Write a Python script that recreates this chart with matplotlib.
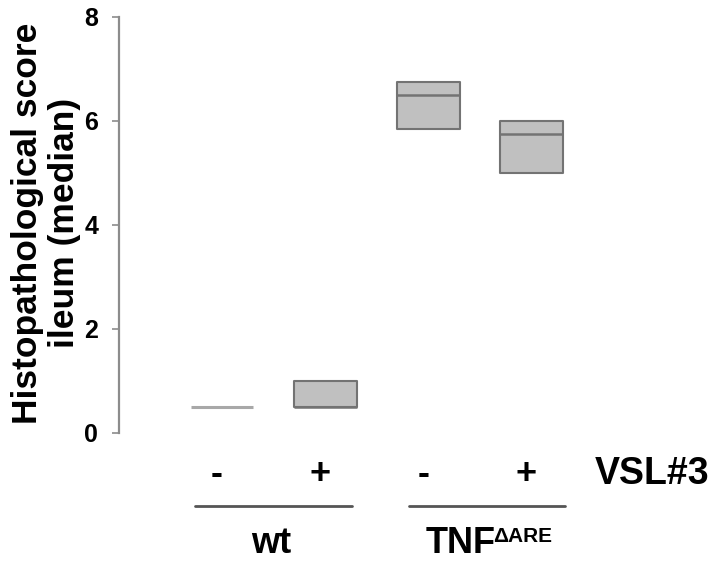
import matplotlib
matplotlib.use('Agg')
import matplotlib.pyplot as plt

plt.rcParams['font.family'] = ['Liberation Sans', 'DejaVu Sans']
plt.rcParams['font.weight'] = 'bold'

# Data (median with lower / upper box edges)
groups = ['wt', 'TNF']
treatment = ['-', '+', '-', '+']
q_low = [0.5, 0.5, 5.85, 5.0]
median = [0.5, 0.5, 6.5, 5.75]
q_high = [0.5, 1.0, 6.75, 6.0]
yticks = [0, 2, 4, 6, 8]

FILL = '#c0c0c0'
EDGE = '#737373'

fig = plt.figure(figsize=(7.18, 5.65), dpi=100)
ax = fig.add_axes([119 / 718, 132 / 565, 599 / 718, 416 / 565])

xs = [0, 1, 2, 3]
w = 0.61
for x, lo, md, hi in zip(xs, q_low, median, q_high):
    if hi > lo:
        ax.bar(x, hi - lo, bottom=lo, width=w, color=FILL, edgecolor=EDGE,
               linewidth=1.5, joinstyle='round')
        ax.hlines(md, x - w / 2, x + w / 2, color=EDGE, lw=1.8)
    else:
        ax.hlines(md, x - w / 2, x + w / 2, color='#a8a8a8', lw=2.2)

ax.set_xlim(-0.998, 4.806)
ax.set_ylim(0, 8)
ax.set_yticks(yticks)
ax.set_yticklabels([str(t) for t in yticks], fontsize=18, fontweight='bold')
ax.set_xticks([])
for s in ['top', 'right', 'bottom']:
    ax.spines[s].set_visible(False)
ax.spines['left'].set_color('#8c8c8c')
ax.spines['left'].set_linewidth(1.6)
ax.tick_params(axis='y', length=5, width=1.2, color='#8c8c8c', pad=10)

fig.text(46 / 718, 1 - 223 / 565, 'Histopathological score\nileum (median)',
         rotation=90, ha='center', va='center', fontsize=25.5,
         fontweight='bold', linespacing=1.15)

# treatment labels below the axis
for x, t in zip(xs, treatment):
    ax.text(x - 0.05, -0.8, t, ha='center', va='center', fontsize=26,
            fontweight='bold', clip_on=False)
ax.text(4.17, -0.78, 'VSL#3', ha='center', va='center', fontsize=27,
        fontweight='bold', clip_on=False)

# group lines and labels
for a, b in [(-0.26, 1.26), (1.81, 3.32)]:
    ax.plot([a, b], [-1.40, -1.40], color='#555555', lw=2,
            clip_on=False, solid_capstyle='round')
ax.text(0.475, -2.12, groups[0], ha='center', va='center', fontsize=26,
        fontweight='bold', clip_on=False)
tnf = ax.text(1.97, -2.12, groups[1], ha='left', va='center', fontsize=26,
              fontweight='bold', clip_on=False)
ax.annotate('\u0394ARE', xy=(1, 1.0), xycoords=tnf, ha='left', va='top',
            xytext=(-1.5, -1), textcoords='offset points',
            fontsize=15, fontweight='bold', annotation_clip=False)

fig.savefig('out.png', dpi=100)
